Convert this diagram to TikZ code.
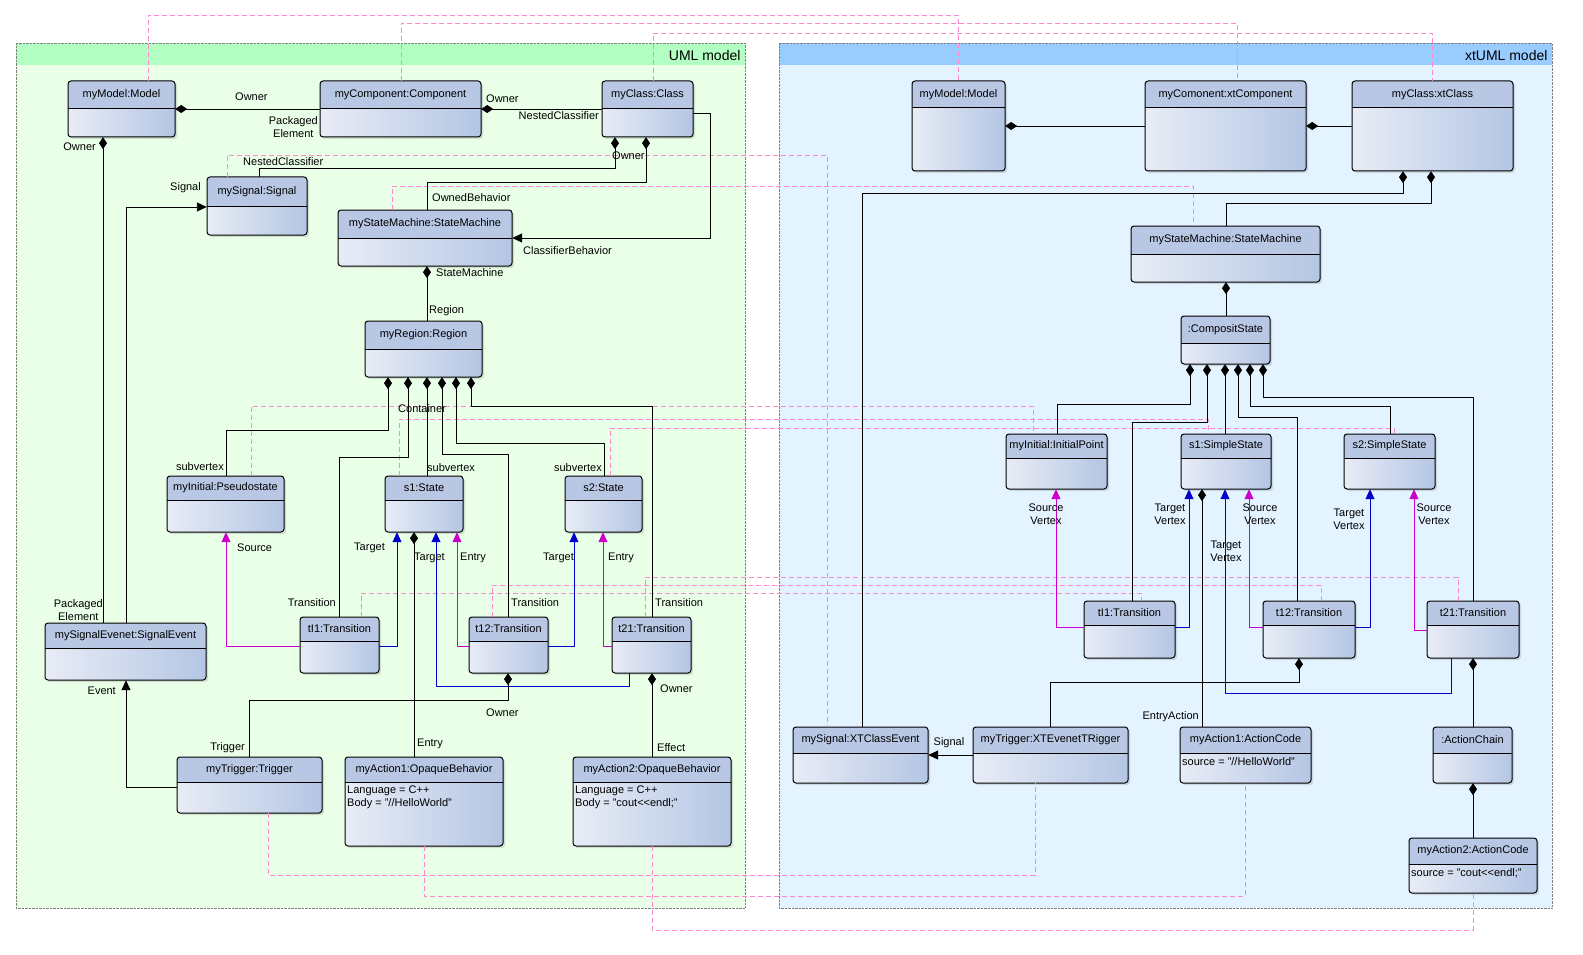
\documentclass[tikz,border=0pt]{standalone}
\usepackage{fontspec}
\setmainfont{Liberation Sans}
\usetikzlibrary{arrows.meta,calc,fit,shadows,positioning}
\definecolor{boxlight}{HTML}{E8ECF6}
\definecolor{boxdark}{HTML}{B4C6E4}
\definecolor{headcol}{HTML}{B8C8E4}
\definecolor{umlbg}{HTML}{EAFFE8}
\definecolor{umlhead}{HTML}{B3FFC3}
\definecolor{xtbg}{HTML}{E3F3FF}
\definecolor{xthead}{HTML}{99CCFF}
\definecolor{tracecol}{HTML}{FF88CC}
\definecolor{tgtblue}{HTML}{0000CC}
\definecolor{srcmag}{HTML}{CC00CC}

% object box: name, x1, y1, x2, y2, header bottom, title, body
\newcommand{\umlobj}[8]{%
  \path[box_body] (#2,#3) rectangle (#4,#5);
  \fill[headcol] (#2,#6) [rounded corners=3pt] -- (#2,#3) -- (#4,#3) [sharp corners] -- (#4,#6) -- cycle;
  \draw[box_line] (#2,#3) rectangle (#4,#5);
  \draw[line width=1pt] (#2,#6) -- (#4,#6);
  \node[fit={(#2,#3)(#4,#5)}, inner sep=0pt] (#1) {};
  \node[lbl_style] at ($(#2,#3)!0.5!(#4,#6)$) {#7};
  \node[lbl_style, anchor=north west, align=left] at (#2+1,#6+3) {#8};
}

\begin{document}
\begin{tikzpicture}[x=1pt,y=-1pt, line join=round]
  \tikzstyle{box_body} = [rounded corners=3pt, left color=boxlight, right color=boxdark,
                          drop shadow={shadow xshift=2pt, shadow yshift=-2pt, opacity=0.25}]
  \tikzstyle{box_line} = [draw=black, line width=1pt, rounded corners=3pt]
  \tikzstyle{lbl_style} = [font=\fontsize{11}{13}\selectfont, inner sep=1pt]
  \tikzstyle{comp_style} = [draw=black, line width=0.9pt, {Diamond[length=12pt,width=8pt]}-]
  \tikzstyle{ref_style} = [draw=black, line width=0.9pt, -{Triangle[length=10pt,width=9pt]}]
  \tikzstyle{tgt_style} = [draw=tgtblue, line width=0.9pt, -{Triangle[length=10pt,width=9pt]}]
  \tikzstyle{src_style} = [draw=srcmag, line width=0.9pt, -{Triangle[length=10pt,width=9pt]}]
  \tikzstyle{trace_style} = [draw=tracecol, line width=0.7pt, dash pattern=on 5pt off 3pt]

  \useasboundingbox (0,0) rectangle (1583,955);

  % panels
  \fill[umlbg] (16,43) rectangle (745,908);
  \fill[umlhead] (16,43) rectangle (745,65);
  \draw[gray, densely dotted] (16,43) rectangle (745,908);
  \node[font=\fontsize{14}{16}\selectfont, anchor=east] at (744,55) {UML model};
  \fill[xtbg] (779,43) rectangle (1552,908);
  \fill[xthead] (779,43) rectangle (1552,65);
  \draw[gray, densely dotted] (779,43) rectangle (1552,908);
  \node[font=\fontsize{14}{16}\selectfont, anchor=east] at (1551,55) {xtUML model};

  % UML objects
  \umlobj{mdl}{68}{81}{175}{137}{109}{myModel:Model}{}
  \umlobj{comp}{320}{81}{481}{137}{109}{myComponent:Component}{}
  \umlobj{cls}{602}{81}{693}{137}{109}{myClass:Class}{}
  \umlobj{sig}{207}{177}{307}{235}{206}{mySignal:Signal}{}
  \umlobj{sm}{338}{210}{512}{266}{238}{myStateMachine:StateMachine}{}
  \umlobj{reg}{365}{321}{482}{377}{349}{myRegion:Region}{}
  \umlobj{ini}{167}{476}{284}{532}{500}{myInitial:Pseudostate}{}
  \umlobj{s1}{385}{476}{463}{532}{500}{s1:State}{}
  \umlobj{s2}{565}{476}{642}{532}{500}{s2:State}{}
  \umlobj{sev}{45}{623}{206}{680}{648}{mySignalEvenet:SignalEvent}{}
  \umlobj{t1}{300}{617}{379}{673}{641}{tI1:Transition}{}
  \umlobj{t12}{469}{617}{548}{673}{641}{t12:Transition}{}
  \umlobj{t21}{612}{617}{691}{673}{641}{t21:Transition}{}
  \umlobj{trg}{177}{757}{322}{813}{782}{myTrigger:Trigger}{}
  \umlobj{act1}{345}{757}{503}{846}{782}{myAction1:OpaqueBehavior}{Language = C++\\Body = "//HelloWorld"}
  \umlobj{act2}{573}{757}{731}{846}{782}{myAction2:OpaqueBehavior}{Language = C++\\Body = "cout<{}<endl;"}

  % xtUML objects
  \umlobj{xmdl}{912}{81}{1005}{171}{108}{myModel:Model}{}
  \umlobj{xcomp}{1145}{81}{1306}{171}{108}{myComonent:xtComponent}{}
  \umlobj{xcls}{1352}{81}{1513}{171}{108}{myClass:xtClass}{}
  \umlobj{xsm}{1131}{226}{1320}{282}{254}{myStateMachine:StateMachine}{}
  \umlobj{cs}{1181}{316}{1270}{364}{343}{:CompositState}{}
  \umlobj{xini}{1006}{434}{1107}{489}{458}{myInitial:InitialPoint}{}
  \umlobj{xs1}{1181}{434}{1271}{489}{458}{s1:SimpleState}{}
  \umlobj{xs2}{1344}{434}{1435}{489}{458}{s2:SimpleState}{}
  \umlobj{xt1}{1084}{601}{1175}{658}{625}{tI1:Transition}{}
  \umlobj{xt12}{1263}{601}{1355}{658}{625}{t12:Transition}{}
  \umlobj{xt21}{1427}{601}{1519}{658}{625}{t21:Transition}{}
  \umlobj{xsig}{793}{727}{928}{783}{753}{mySignal:XTClassEvent}{}
  \umlobj{xtrg}{973}{727}{1128}{783}{753}{myTrigger:XTEvenetTRigger}{}
  \umlobj{xact1}{1180}{727}{1311}{783}{753}{myAction1:ActionCode}{source = "//HelloWorld"}
  \umlobj{chain}{1433}{727}{1512}{783}{753}{:ActionChain}{}
  \umlobj{xact2}{1409}{838}{1537}{893}{864}{myAction2:ActionCode}{source = "cout<{}<endl;"}

  % trace links
  \draw[trace_style] (mdl.north -| 148,0) -- (148,15) -- (958,15) -- (xmdl.north -| 958,0);
  \draw[trace_style] (comp.north -| 401,0) -- (401,23) -- (1237,23) -- (xcomp.north -| 1237,0);
  \draw[trace_style] (cls.north -| 653,0) -- (653,33) -- (1432,33) -- (xcls.north -| 1432,0);
  \draw[trace_style] (sig.north -| 227,0) -- (227,155) -- (827,155) -- (xsig.north -| 827,0);
  \draw[trace_style] (sm.north -| 392,0) -- (392,186) -- (1193,186) -- (xsm.north -| 1193,0);
  \draw[trace_style] (ini.north -| 251,0) -- (251,406) -- (1033,406) -- (xini.north -| 1033,0);
  \draw[trace_style] (s1.north -| 399,0) -- (399,419) -- (1208,419) -- (xs1.north -| 1208,0);
  \draw[trace_style] (s2.north -| 610,0) -- (610,428) -- (1394,428) -- (xs2.north -| 1394,0);
  \draw[trace_style] (t1.north -| 361,0) -- (361,593) -- (1141,593) -- (xt1.north -| 1141,0);
  \draw[trace_style] (t12.north -| 492,0) -- (492,585) -- (1321,585) -- (xt12.north -| 1321,0);
  \draw[trace_style] (t21.north -| 645,0) -- (645,577) -- (1458,577) -- (xt21.north -| 1458,0);
  \draw[trace_style] (trg.south -| 268,0) -- (268,875) -- (1035,875) -- (xtrg.south -| 1035,0);
  \draw[trace_style] (act1.south -| 424,0) -- (424,896) -- (1245,896) -- (xact1.south -| 1245,0);
  \draw[trace_style] (act2.south -| 652,0) -- (652,930) -- (1473,930) -- (xact2.south -| 1473,0);

  % UML connectors
  \draw[comp_style] (mdl.east |- 0,109) -- (comp.west |- 0,109);
  \draw[comp_style] (comp.east |- 0,109) -- (cls.west |- 0,109);
  \draw[comp_style] (cls.south -| 615,0) -- (615,168) -- (259,168) -- (sig.north -| 259,0);
  \draw[comp_style] (cls.south -| 646,0) -- (646,182) -- (427,182) -- (sm.north -| 427,0);
  \draw[ref_style] (cls.east |- 0,113) -- (710,113) -- (710,238) -- (sm.east |- 0,238);
  \draw[comp_style] (sm.south -| 427,0) -- (reg.north -| 427,0);
  \draw[comp_style] (mdl.south -| 103,0) -- (sev.north -| 103,0);
  \draw[ref_style] (sev.north -| 126,0) -- (126,207) -- (sig.west |- 0,207);
  \draw[comp_style] (reg.south -| 388,0) -- (388,430) -- (226,430) -- (ini.north -| 226,0);
  \draw[comp_style] (reg.south -| 408,0) -- (408,457) -- (339,457) -- (t1.north -| 339,0);
  \draw[comp_style] (reg.south -| 427,0) -- (s1.north -| 427,0);
  \draw[comp_style] (reg.south -| 442,0) -- (442,454) -- (508,454) -- (t12.north -| 508,0);
  \draw[comp_style] (reg.south -| 456,0) -- (456,443) -- (604,443) -- (s2.north -| 604,0);
  \draw[comp_style] (reg.south -| 471,0) -- (471,406) -- (652,406) -- (t21.north -| 652,0);
  \draw[src_style] (t1.west |- 0,646) -- (226,646) -- (ini.south -| 226,0);
  \draw[tgt_style] (t1.east |- 0,646) -- (397,646) -- (s1.south -| 397,0);
  \draw[comp_style] (s1.south -| 414,0) -- (act1.north -| 414,0);
  \draw[src_style] (t12.west |- 0,646) -- (457,646) -- (s1.south -| 457,0);
  \draw[tgt_style] (t12.east |- 0,646) -- (574,646) -- (s2.south -| 574,0);
  \draw[tgt_style] (t21.south -| 629,0) -- (629,686) -- (436,686) -- (s1.south -| 436,0);
  \draw[src_style] (t21.west |- 0,646) -- (603,646) -- (s2.south -| 603,0);
  \draw[comp_style] (t12.south -| 508,0) -- (508,700) -- (249,700) -- (trg.north -| 249,0);
  \draw[comp_style] (t21.south -| 652,0) -- (act2.north -| 652,0);
  \draw[ref_style] (trg.west |- 0,787) -- (126,787) -- (sev.south -| 126,0);

  % UML labels
  \node[lbl_style, anchor=west] at (234,97) {Owner};
  \node[lbl_style, anchor=east, align=center] at (319,127) {Packaged\\Element};
  \node[lbl_style, anchor=west] at (485,99) {Owner};
  \node[lbl_style, anchor=east] at (600,116) {NestedClassifier};
  \node[lbl_style, anchor=west] at (242,162) {NestedClassifier};
  \node[lbl_style, anchor=west] at (611,156) {Owner};
  \node[lbl_style, anchor=west] at (431,198) {OwnedBehavior};
  \node[lbl_style, anchor=west] at (522,251) {ClassifierBehavior};
  \node[lbl_style, anchor=west] at (435,273) {StateMachine};
  \node[lbl_style, anchor=west] at (428,311) {Region};
  \node[lbl_style, anchor=east] at (97,147) {Owner};
  \node[lbl_style, anchor=east, align=center] at (104,610) {Packaged\\Element};
  \node[lbl_style, anchor=east] at (202,188) {Signal};
  \node[lbl_style, anchor=west] at (397,409) {Container};
  \node[lbl_style, anchor=east] at (225,467) {subvertex};
  \node[lbl_style, anchor=west] at (426,468) {subvertex};
  \node[lbl_style, anchor=east] at (603,468) {subvertex};
  \node[lbl_style, anchor=east] at (337,603) {Transition};
  \node[lbl_style, anchor=west] at (510,603) {Transition};
  \node[lbl_style, anchor=west] at (654,603) {Transition};
  \node[lbl_style, anchor=west] at (236,548) {Source};
  \node[lbl_style, anchor=east] at (386,548) {Target};
  \node[lbl_style, anchor=west] at (413,558) {Target};
  \node[lbl_style, anchor=west] at (459,558) {Entry};
  \node[lbl_style, anchor=east] at (575,558) {Target};
  \node[lbl_style, anchor=west] at (607,558) {Entry};
  \node[lbl_style, anchor=west] at (416,744) {Entry};
  \node[lbl_style, anchor=west] at (485,713) {Owner};
  \node[lbl_style, anchor=west] at (659,689) {Owner};
  \node[lbl_style, anchor=west] at (656,748) {Effect};
  \node[lbl_style, anchor=east] at (246,748) {Trigger};
  \node[lbl_style, anchor=east] at (117,691) {Event};

  % xtUML connectors
  \draw[comp_style] (xmdl.east |- 0,126) -- (xcomp.west |- 0,126);
  \draw[comp_style] (xcomp.east |- 0,126) -- (xcls.west |- 0,126);
  \draw[comp_style] (xcls.south -| 1403,0) -- (1403,193) -- (862,193) -- (xsig.north -| 862,0);
  \draw[comp_style] (xcls.south -| 1431,0) -- (1431,203) -- (1226,203) -- (xsm.north -| 1226,0);
  \draw[comp_style] (xsm.south -| 1226,0) -- (cs.north -| 1226,0);
  \draw[comp_style] (cs.south -| 1190,0) -- (1190,404) -- (1057,404) -- (xini.north -| 1057,0);
  \draw[comp_style] (cs.south -| 1207,0) -- (1207,422) -- (1132,422) -- (xt1.north -| 1132,0);
  \draw[comp_style] (cs.south -| 1225,0) -- (xs1.north -| 1225,0);
  \draw[comp_style] (cs.south -| 1238,0) -- (1238,417) -- (1297,417) -- (xt12.north -| 1297,0);
  \draw[comp_style] (cs.south -| 1250,0) -- (1250,406) -- (1390,406) -- (xs2.north -| 1390,0);
  \draw[comp_style] (cs.south -| 1263,0) -- (1263,397) -- (1473,397) -- (xt21.north -| 1473,0);
  \draw[src_style] (xt1.west |- 0,627) -- (1056,627) -- (xini.south -| 1056,0);
  \draw[tgt_style] (xt1.east |- 0,627) -- (1189,627) -- (xs1.south -| 1189,0);
  \draw[comp_style] (xs1.south -| 1202,0) -- (xact1.north -| 1202,0);
  \draw[src_style] (xt12.west |- 0,627) -- (1249,627) -- (xs1.south -| 1249,0);
  \draw[tgt_style] (xt12.east |- 0,627) -- (1370,627) -- (xs2.south -| 1370,0);
  \draw[tgt_style] (xt21.south -| 1451,0) -- (1451,693) -- (1225,693) -- (xs1.south -| 1225,0);
  \draw[src_style] (xt21.west |- 0,630) -- (1414,630) -- (xs2.south -| 1414,0);
  \draw[comp_style] (xt12.south -| 1299,0) -- (1299,682) -- (1050,682) -- (xtrg.north -| 1050,0);
  \draw[comp_style] (xt21.south -| 1473,0) -- (chain.north -| 1473,0);
  \draw[comp_style] (chain.south -| 1473,0) -- (xact2.north -| 1473,0);
  \draw[ref_style] (xtrg.west |- 0,755) -- (xsig.east |- 0,755);

  % xtUML labels
  \node[lbl_style, align=center] at (1046,514) {Source\\Vertex};
  \node[lbl_style, align=center] at (1170,514) {Target\\Vertex};
  \node[lbl_style, align=center] at (1260,514) {Source\\Vertex};
  \node[lbl_style, align=center] at (1349,519) {Target\\Vertex};
  \node[lbl_style, align=center] at (1226,551) {Target\\Vertex};
  \node[lbl_style, align=center] at (1434,514) {Source\\Vertex};
  \node[lbl_style, anchor=east] at (1200,717) {EntryAction};
  \node[lbl_style] at (949,743) {Signal};
\end{tikzpicture}
\end{document}
